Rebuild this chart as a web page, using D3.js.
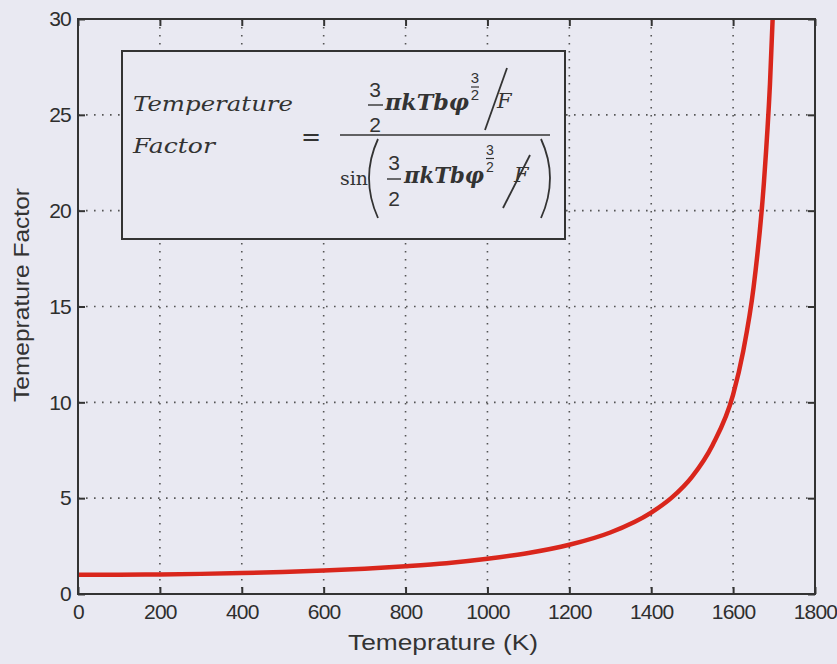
<!DOCTYPE html>
<html lang="en">
<head>
<meta charset="utf-8">
<title>Temperature Factor vs Temperature</title>
<script src="https://d3js.org/d3.v7.min.js"></script>
<style>
  body { margin: 0; background: #e9e9f2; }
  svg { display: block; }
  .tick text { font-family: "Liberation Sans", Arial, sans-serif; font-size: 21px; fill: #2e2e2e; letter-spacing: -0.8px; }
  .axis path { display: none; }
  .axis line { stroke: #333; stroke-width: 2; }
  .grid line { stroke: #555; stroke-width: 1.6; stroke-dasharray: 1.6 6.4; }
  .label { font-family: "Liberation Sans", Arial, sans-serif; font-size: 22px; fill: #333; }
  .eq { font-family: "DejaVu Serif", serif; fill: #333; }
  .num { font-family: "Liberation Sans", Arial, sans-serif; fill: #333; }
</style>
</head>
<body>
<div id="chart"></div>
<script>
// values
var temps   = [0, 100, 200, 300, 400, 500, 600, 700, 800, 900, 1000, 1100, 1200, 1300, 1400, 1450, 1500, 1550, 1600, 1625, 1650, 1675, 1690, 1700];
var factors = [1.0, 1.005, 1.02, 1.05, 1.09, 1.15, 1.22, 1.32, 1.45, 1.61, 1.84, 2.14, 2.57, 3.21, 4.25, 5.03, 6.13, 7.78, 10.4, 12.7, 16.0, 21.4, 26.6, 31.8];
var xTicks = [0, 200, 400, 600, 800, 1000, 1200, 1400, 1600, 1800];
var yTicks = [0, 5, 10, 15, 20, 25, 30];

var W = 837, H = 664;
var margin = {top: 19, right: 22, bottom: 70, left: 78};
var width = W - margin.left - margin.right,
    height = H - margin.top - margin.bottom;

var svg = d3.select("#chart").append("svg")
    .attr("width", W)
    .attr("height", H);

svg.append("rect").attr("width", W).attr("height", H).attr("fill", "#e9e9f2");

var g = svg.append("g")
    .attr("transform", "translate(" + margin.left + "," + margin.top + ")");

var x = d3.scaleLinear().domain([0, 1800]).range([0, width]);
var y = d3.scaleLinear().domain([0, 30]).range([height, 0]);

// dotted grid
g.append("g").attr("class", "grid")
  .selectAll("line").data(xTicks.slice(1, -1)).enter().append("line")
    .attr("x1", function(d) { return x(d); }).attr("x2", function(d) { return x(d); })
    .attr("y1", 0).attr("y2", height);
g.append("g").attr("class", "grid")
  .selectAll("line").data(yTicks.slice(1, -1)).enter().append("line")
    .attr("y1", function(d) { return y(d); }).attr("y2", function(d) { return y(d); })
    .attr("x1", 0).attr("x2", width);

// axes, ticks pointing inwards on all four sides
var fmt = d3.format("d");
g.append("g").attr("class", "axis")
    .attr("transform", "translate(0," + height + ")")
    .call(d3.axisBottom(x).tickValues(xTicks).tickFormat(fmt).tickSizeInner(-7).tickSizeOuter(0).tickPadding(10));
g.append("g").attr("class", "axis")
    .call(d3.axisTop(x).tickValues(xTicks).tickSizeInner(-7).tickSizeOuter(0).tickFormat(""));
g.append("g").attr("class", "axis")
    .call(d3.axisLeft(y).tickValues(yTicks).tickFormat(fmt).tickSizeInner(-7).tickSizeOuter(0).tickPadding(7));
g.append("g").attr("class", "axis")
    .attr("transform", "translate(" + width + ",0)")
    .call(d3.axisRight(y).tickValues(yTicks).tickSizeInner(-7).tickSizeOuter(0).tickFormat(""));

// curve
g.append("clipPath").attr("id", "clip")
  .append("rect").attr("width", width).attr("height", height);

var line = d3.line()
    .x(function(d, i) { return x(temps[i]); })
    .y(function(d) { return y(d); })
    .curve(d3.curveMonotoneX);

g.append("path")
    .datum(factors)
    .attr("clip-path", "url(#clip)")
    .attr("fill", "none")
    .attr("stroke", "#d9261c")
    .attr("stroke-width", 4.5)
    .attr("d", line);

// frame
g.append("rect")
    .attr("width", width).attr("height", height)
    .attr("fill", "none").attr("stroke", "#333").attr("stroke-width", 2);

// axis titles
svg.append("text").attr("class", "label")
    .attr("x", 348).attr("y", 650)
    .attr("textLength", 190).attr("lengthAdjust", "spacingAndGlyphs")
    .text("Temeprature (K)");
svg.append("text").attr("class", "label")
    .attr("transform", "translate(29,402) rotate(-90)")
    .attr("textLength", 214).attr("lengthAdjust", "spacingAndGlyphs")
    .text("Temeprature Factor");

// formula box
var box = svg.append("g");
box.append("rect")
    .attr("x", 122).attr("y", 51).attr("width", 443).attr("height", 188)
    .attr("fill", "#e9e9f2").attr("stroke", "#333").attr("stroke-width", 2);

function txt(cls, s, x0, y0, size, opts) {
  var t = box.append("text").attr("class", cls).attr("font-size", size)
      .attr("x", x0).attr("y", y0).text(s);
  opts = opts || {};
  if (opts.italic) t.attr("font-style", "italic");
  if (opts.bold) t.attr("font-weight", "bold");
  if (opts.anchor) t.attr("text-anchor", opts.anchor);
  if (opts.len) t.attr("textLength", opts.len).attr("lengthAdjust", "spacingAndGlyphs");
  return t;
}
function hline(x1, x2, yy, w) {
  box.append("line").attr("x1", x1).attr("x2", x2).attr("y1", yy).attr("y2", yy)
      .attr("stroke", "#333").attr("stroke-width", w);
}
function seg(a, b) {
  box.append("line").attr("x1", a[0]).attr("y1", a[1]).attr("x2", b[0]).attr("y2", b[1])
      .attr("stroke", "#333").attr("stroke-width", 1.8);
}

txt("eq", "Temperature", 133, 111, 21, {italic: true, len: 160});
txt("eq", "Factor", 133, 153, 21, {italic: true, len: 82});
txt("eq", "=", 301, 145, 24);

// main fraction bar
hline(340, 550, 135, 1.6);

// numerator
txt("num", "3", 375, 97, 21, {anchor: "middle"});
hline(368, 383, 105, 1.4);
txt("num", "2", 375, 132, 21, {anchor: "middle"});
txt("eq", "\u03C0kTb\u03C6", 385, 110, 22, {italic: true, bold: true, len: 84});
txt("num", "3", 475, 83, 15, {anchor: "middle"});
hline(471, 479, 87, 1.2);
txt("num", "2", 475, 100, 15, {anchor: "middle"});
seg([507, 68], [485, 130]);
txt("eq", "F", 497, 108, 21, {italic: true});

// denominator
txt("eq", "sin", 340, 185, 19);
box.append("path").attr("d", "M378,139 Q360,178 378,218")
    .attr("fill", "none").attr("stroke", "#333").attr("stroke-width", 1.8);
box.append("path").attr("d", "M541,139 Q559,178 541,218")
    .attr("fill", "none").attr("stroke", "#333").attr("stroke-width", 1.8);
txt("num", "3", 394, 170, 21, {anchor: "middle"});
hline(387, 401, 179, 1.4);
txt("num", "2", 394, 206, 21, {anchor: "middle"});
txt("eq", "\u03C0kTb\u03C6", 404, 183, 22, {italic: true, bold: true, len: 80});
txt("num", "3", 490, 155, 14, {anchor: "middle"});
hline(486, 494, 158.5, 1.2);
txt("num", "2", 490, 172, 14, {anchor: "middle"});
seg([530, 155], [503, 208]);
txt("eq", "F", 514, 182, 21, {italic: true});
</script>
</body>
</html>
